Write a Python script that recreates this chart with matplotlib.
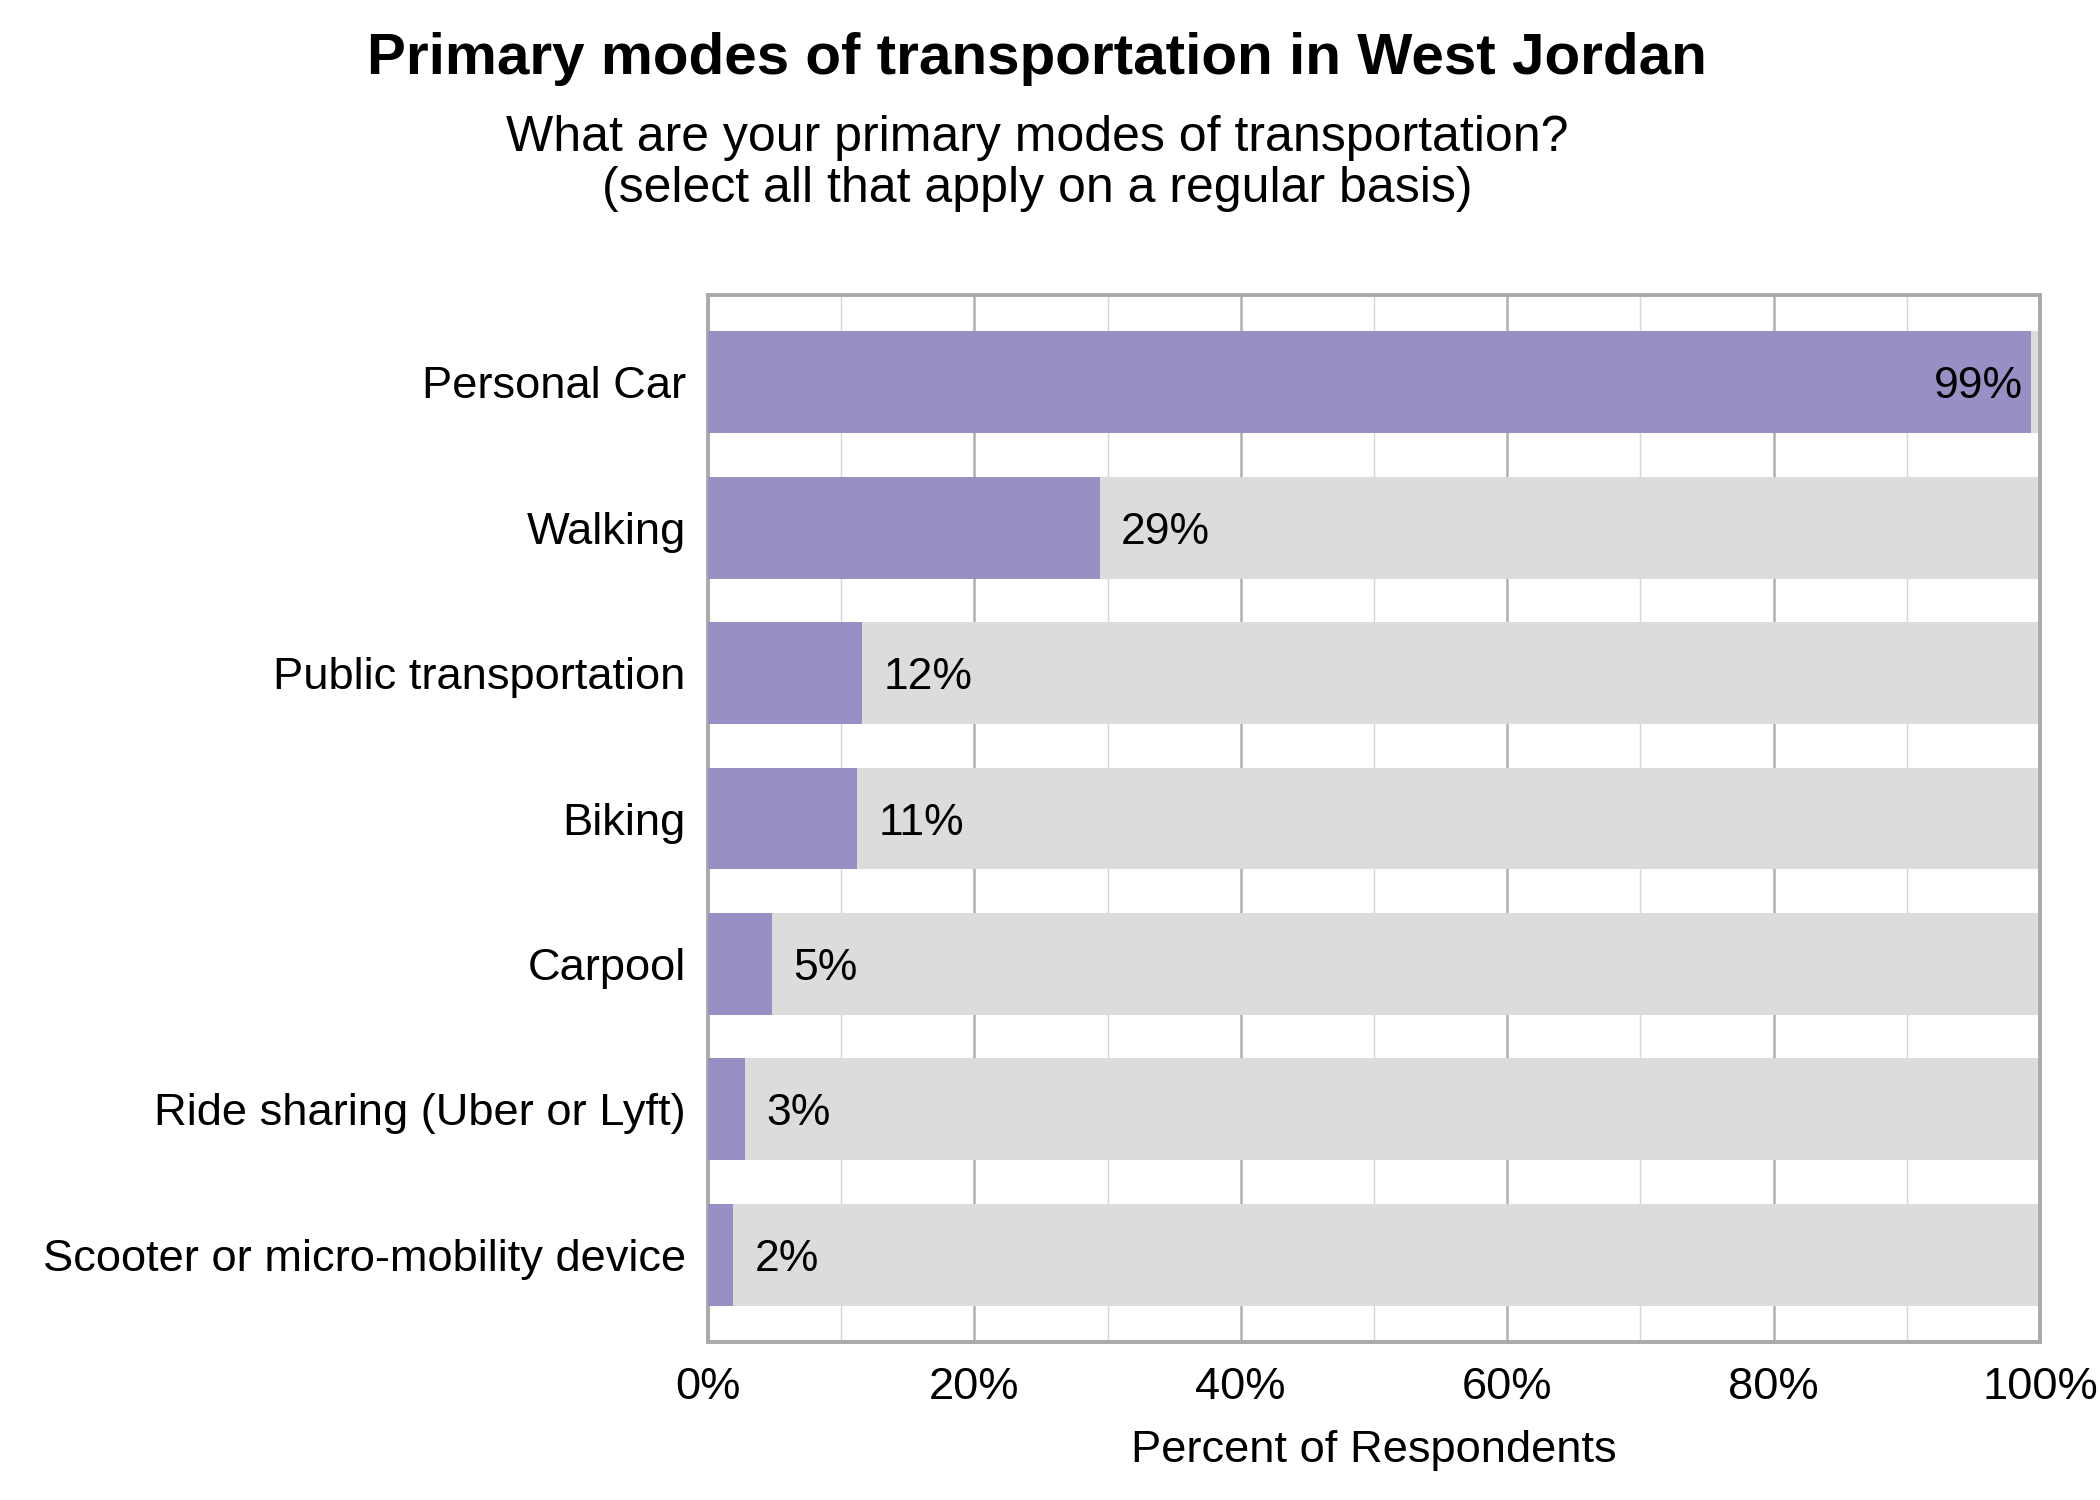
import matplotlib
matplotlib.use("Agg")
import matplotlib.pyplot as plt
from matplotlib.ticker import MultipleLocator, PercentFormatter

plt.rcParams["font.family"] = ["Liberation Sans", "DejaVu Sans"]

# ---- data ----------------------------------------------------------
modes = ["Personal Car", "Walking", "Public transportation", "Biking",
         "Carpool", "Ride sharing (Uber or Lyft)",
         "Scooter or micro-mobility device"]
share = [99.3, 29.4, 11.6, 11.2, 4.8, 2.8, 1.9]   # percent of respondents

PURPLE = "#988fc4"
GREY_BG = "#dcdcdc"
SPINE = "#aaaaaa"

fig = plt.figure(figsize=(10.5, 7.5), dpi=200)
ax = fig.add_axes([0.3371, 0.1053, 0.6343, 0.6980])

ypos = list(range(len(modes)))
ax.barh(ypos, [100] * len(modes), height=0.7, color=GREY_BG, zorder=2)
ax.barh(ypos, share, height=0.7, color=PURPLE, zorder=3)

# value labels: inside for the long bar, just right of the bar otherwise
for y, v in zip(ypos, share):
    txt = f"{round(v)}%"
    if v > 90:
        ax.text(v - 0.6, y, txt, ha="right", va="center_baseline",
                fontsize=16, color="black", zorder=4)
    else:
        ax.text(v + 1.6, y, txt, ha="left", va="center_baseline",
                fontsize=16, color="black", zorder=4)

ax.set_xlim(0, 100)
ax.set_ylim(6.6, -0.6)
ax.set_yticks(ypos)
ax.set_yticklabels(modes, fontsize=16.3)
ax.xaxis.set_major_locator(MultipleLocator(20))
ax.xaxis.set_minor_locator(MultipleLocator(10))
ax.xaxis.set_major_formatter(PercentFormatter(decimals=0))
ax.tick_params(axis="x", which="both", length=0, labelsize=16.3, pad=9)
ax.tick_params(axis="y", length=0, pad=8)

ax.grid(axis="x", which="major", color="#b0b0b0", lw=0.9, zorder=1)
ax.grid(axis="x", which="minor", color="#d6d6d6", lw=0.5, zorder=1)
ax.set_axisbelow(True)
for s in ax.spines.values():
    s.set_color(SPINE)
    s.set_linewidth(1.4)

ax.set_xlabel("Percent of Respondents", fontsize=16.3, labelpad=8)

fig.text(0.494, 0.961, "Primary modes of transportation in West Jordan",
         ha="center", va="center", fontsize=21, fontweight="bold")
fig.text(0.494, 0.891,
         "What are your primary modes of transportation?\n"
         "(select all that apply on a regular basis)",
         ha="center", va="center", fontsize=18, linespacing=1.15)

fig.savefig("out.png", dpi=200)
